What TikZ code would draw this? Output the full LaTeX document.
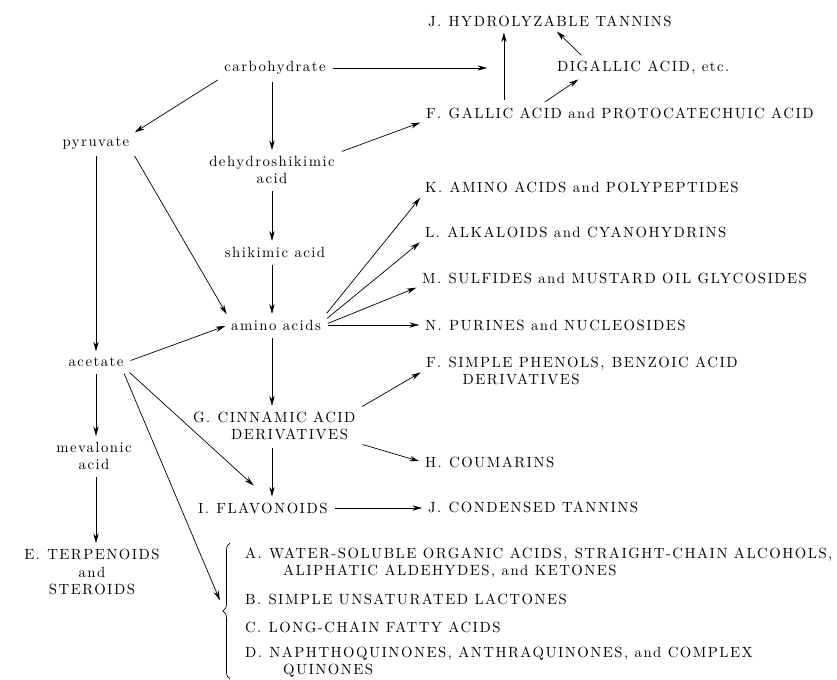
\documentclass[tikz,border=0pt]{standalone}
\usepackage{fontspec}
\setmainfont{lmroman10-regular.otf}[LetterSpace=10]
\usetikzlibrary{arrows.meta, calc, decorations.pathreplacing}

\tikzstyle{composto} = [
    inner sep = 2pt,
    font = \fontsize{10.5}{12.5}\selectfont,
    align = center,
]
\tikzstyle{classe} = [
    composto,
    anchor = west,
    align = left,
]
\tikzstyle{via} = [
    -{Stealth[length = 7pt, width = 3.8pt]},
    line width = 0.5pt,
    shorten < = 3pt,
    shorten > = 2pt,
]

\begin{document}
\begin{tikzpicture} [x = 0.025cm, y = -0.025cm]
    \useasboundingbox (0, 0) rectangle (837, 679);

    % precursors
    \node (Carbohydrate) [composto] at (275, 68) {carbohydrate};
    \node (Pyruvate) [composto] at (96, 143) {pyruvate};
    \node (Dehydroshikimic) [composto] at (272, 170) {dehydroshikimic\\acid};
    \node (Shikimic) [composto] at (275, 252) {shikimic acid};
    \node (AminoAcids) [composto] at (276, 325) {amino acids};
    \node (Acetate) [composto] at (96, 362) {acetate};
    \node (Mevalonic) [composto] at (94, 456) {mevalonic\\acid};
    \node (Terpenoids) [composto] at (92, 572) {E.\enspace TERPENOIDS\\and\\STEROIDS};
    \node (Cinnamic) [classe] at (190, 426) {G.\enspace CINNAMIC ACID\\\hspace*{27pt}DERIVATIVES};
    \node (Flavonoids) [classe] at (195, 508) {I.\enspace FLAVONOIDS};

    % products
    \node (Hydrolyzable) [classe] at (425, 21) {J.\enspace HYDROLYZABLE TANNINS};
    \node (Digallic) [classe] at (554, 68) {DIGALLIC ACID, etc.};
    \node (Gallic) [classe] at (423, 113) {F.\enspace GALLIC ACID and PROTOCATECHUIC ACID};
    \node (Polypeptides) [classe] at (422, 187) {K.\enspace AMINO ACIDS and POLYPEPTIDES};
    \node (Alkaloids) [classe] at (422, 232) {L.\enspace ALKALOIDS and CYANOHYDRINS};
    \node (Sulfides) [classe] at (419, 278) {M.\enspace SULFIDES and MUSTARD OIL GLYCOSIDES};
    \node (Purines) [classe] at (422, 325) {N.\enspace PURINES and NUCLEOSIDES};
    \node (Phenols) [classe] at (423, 371) {F.\enspace SIMPLE PHENOLS,\enspace BENZOIC ACID\\\hspace*{26pt}DERIVATIVES};
    \node (Coumarins) [classe] at (422, 462) {H.\enspace COUMARINS};
    \node (Condensed) [classe] at (425, 507) {J.\enspace CONDENSED TANNINS};

    \node (WaterSoluble) [classe] at (242, 563) {A.\enspace WATER-SOLUBLE ORGANIC ACIDS,\enspace STRAIGHT-CHAIN ALCOHOLS,\\\hspace*{27pt}ALIPHATIC ALDEHYDES, and KETONES};
    \node (Lactones) [classe] at (242, 599) {B.\enspace SIMPLE UNSATURATED LACTONES};
    \node (FattyAcids) [classe] at (242, 627) {C.\enspace LONG-CHAIN FATTY ACIDS};
    \node (Quinones) [classe] at (242, 662) {D.\enspace NAPHTHOQUINONES, ANTHRAQUINONES, and COMPLEX\\\hspace*{27pt}QUINONES};

    \coordinate (Merge) at (490, 68);
    \coordinate (HydroFoot) at ($(Hydrolyzable.south west)!0.316!(Hydrolyzable.south east)$);
    \coordinate (BraceTop) at (230, 543);
    \coordinate (BraceBottom) at (230, 679);
    \coordinate (Lipids) at (221, 603);

    % shikimic acid spine
    \draw [via] (Dehydroshikimic |- Carbohydrate.south) -- (Dehydroshikimic.north);
    \draw [via] (Dehydroshikimic.south) -- (Dehydroshikimic.south |- Shikimic.north);
    \draw [via] (Dehydroshikimic.south |- Shikimic.south) -- (Dehydroshikimic.south |- AminoAcids.north);
    \draw [via] (Dehydroshikimic.south |- AminoAcids.south) -- (Dehydroshikimic.south |- Cinnamic.north);
    \draw [via] (Dehydroshikimic.south |- Cinnamic.south) -- (Dehydroshikimic.south |- Flavonoids.north);

    % left side
    \draw [via] (Carbohydrate.south west) -- (Pyruvate.north east);
    \draw [via] (Pyruvate.south east) -- (AminoAcids.north west);
    \draw [via] (Pyruvate.south) -- (Acetate.north);
    \draw [via] (Acetate.east) -- (AminoAcids.west);
    \draw [via] (Acetate.south) -- (Acetate.south |- Mevalonic.north);
    \draw [via] (Acetate.south |- Mevalonic.south) -- (Acetate.south |- Terpenoids.north);
    \draw [via] (Acetate.south east) -- ($(Flavonoids.north) + (-7, -12)$);
    \draw [via] ([xshift = -0.1cm] Acetate.south east) -- (Lipids);
    \draw [decorate, decoration = {brace, amplitude = 5pt}, line width = 0.5pt] (BraceBottom) -- (BraceTop);

    % tannins
    \draw [via] (Carbohydrate.east) -- (Merge);
    \draw [via] (Dehydroshikimic.north east) -- (Gallic.south west);
    \draw [via] (HydroFoot |- Gallic.north) -- (HydroFoot);
    \draw [via] ($(Gallic.north west)!0.3!(Gallic.north east)$) -- ($(Digallic.south west)!0.15!(Digallic.south east)$);
    \draw [via] ($(Digallic.north west)!0.17!(Digallic.north east)$) -- ($(Hydrolyzable.south west)!0.52!(Hydrolyzable.south east)$);

    % amino acid products
    \draw [via] (AminoAcids.north east) -- (Polypeptides.south west);
    \draw [via] ([yshift = 0.1cm] AminoAcids.east) -- (Alkaloids.south west);
    \draw [via] (AminoAcids.east) -- (Sulfides.south west);
    \draw [via] (AminoAcids.east) -- (AminoAcids.east -| Purines.west);

    % phenylpropanoids
    \draw [via] (Cinnamic.north east) -- (Phenols.west);
    \draw [via] (Cinnamic.south east) -- (Coumarins.west);
    \draw [via] (Flavonoids.east) -- (Flavonoids.east -| Condensed.west);
\end{tikzpicture}
\end{document}
